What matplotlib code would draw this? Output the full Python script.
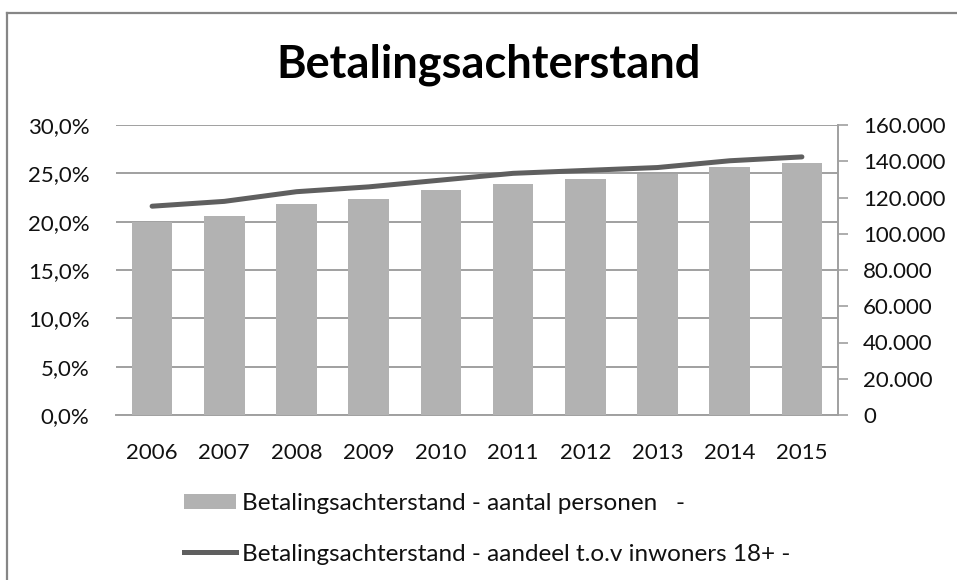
import matplotlib.pyplot as plt
from matplotlib.lines import Line2D
from matplotlib.patches import Patch
from matplotlib.ticker import FuncFormatter, MultipleLocator

plt.rcParams['font.family'] = ['Lato', 'DejaVu Sans']

# data
years = ['2006', '2007', '2008', '2009', '2010', '2011', '2012', '2013', '2014', '2015']
aantal_personen = [106600, 109800, 116200, 119000, 124000, 127400, 130400, 133000, 136700, 138900]
aandeel_pct = [21.6, 22.1, 23.1, 23.6, 24.3, 25.0, 25.3, 25.6, 26.3, 26.7]

title = 'Betalingsachterstand'
label_bars = 'Betalingsachterstand - aantal personen   -'
label_line = 'Betalingsachterstand - aandeel t.o.v inwoners 18+ -'

W, H = 957, 580
bar_col = '#b2b2b2'
line_col = '#5f5f5f'
grid_col = '#a0a0a0'
txt_col = '#111111'

fig = plt.figure(figsize=(W / 100, H / 100), dpi=100)
fig.patch.set_facecolor('white')

# chart border (only left and top edges are visible in the crop)
fig.add_artist(Line2D([7 / W, 7 / W], [1 - 13 / H, 0], color='#868686', lw=1.6,
                      transform=fig.transFigure))
fig.add_artist(Line2D([7 / W, 1], [1 - 13 / H, 1 - 13 / H], color='#868686', lw=1.6,
                      transform=fig.transFigure))

rect = [116 / W, 1 - 415 / H, 722 / W, 290 / H]
ax = fig.add_axes(rect)          # left axis + grid
ax2 = ax.twinx()                 # bars, right axis
ax3 = ax.twinx()                 # line, percent scale

x = list(range(len(years)))

ax.set_ylim(0, 30)
ax.set_xlim(-0.5, len(years) - 0.5)
ax.yaxis.set_major_locator(MultipleLocator(5))
ax.yaxis.set_major_formatter(FuncFormatter(lambda v, p: f'{v:.1f}%'.replace('.', ',')))
ax.grid(axis='y', color=grid_col, lw=1.4)
ax.set_axisbelow(True)
ax.set_xticks(x)
ax.set_xticklabels(years)
ax.tick_params(axis='x', length=0, pad=20, labelsize=16, labelcolor=txt_col)
ax.tick_params(axis='y', length=0, pad=19, labelsize=16, labelcolor=txt_col)
for s in ['left', 'top', 'right']:
    ax.spines[s].set_visible(False)
ax.spines['bottom'].set_color(grid_col)
ax.spines['bottom'].set_linewidth(1.4)

ax2.bar(x, aantal_personen, width=0.56, color=bar_col, zorder=2)
ax2.set_ylim(0, 160000)
ax2.yaxis.set_major_locator(MultipleLocator(20000))
ax2.yaxis.set_major_formatter(FuncFormatter(lambda v, p: f'{int(v):,}'.replace(',', '.')))
ax2.tick_params(axis='y', direction='out', length=7, width=1.2, color=grid_col,
                pad=11, labelsize=16, labelcolor=txt_col)
for s in ['left', 'top', 'bottom']:
    ax2.spines[s].set_visible(False)
ax2.spines['right'].set_color(grid_col)
ax2.spines['right'].set_linewidth(1.4)

ax3.plot(x, aandeel_pct, color=line_col, lw=3.6, solid_capstyle='round')
ax3.set_ylim(0, 30)
ax3.axis('off')

fig.text(0.5 * (280 + 697) / W, 1 - 65 / H, title, ha='center', va='center',
         fontsize=32.5, fontweight='bold', color='black')

handles = [Patch(facecolor=bar_col, edgecolor='none'),
           Line2D([0], [0], color=line_col, lw=3.6)]
fig.legend(handles, [label_bars, label_line], loc='upper left',
           bbox_to_anchor=(184 / W, 1 - 493 / H), frameon=False, fontsize=17.5,
           handlelength=2.15, handleheight=0.62, handletextpad=0.25, labelspacing=1.22,
           labelcolor=txt_col, borderpad=0, borderaxespad=0)

fig.savefig('out.png', dpi=100, facecolor='white')
